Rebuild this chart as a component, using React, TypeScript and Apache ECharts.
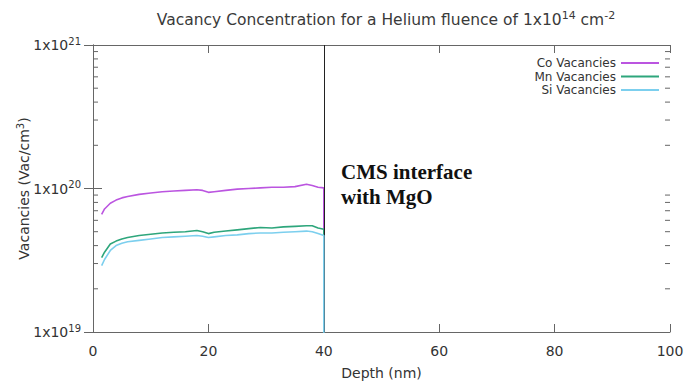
import React, { useEffect, useRef } from "react";
import * as echarts from "echarts";

const depth = [1.5, 2, 3, 4, 5, 6, 8, 10, 12, 14, 16, 18, 19, 20, 21, 23, 25, 27, 29, 31, 33, 35, 37, 38, 39, 40, 40];
const coVac = [6.6e19, 7.2e19, 7.9e19, 8.3e19, 8.6e19, 8.8e19, 9.1e19, 9.3e19, 9.5e19, 9.6e19, 9.7e19, 9.8e19, 9.7e19, 9.4e19, 9.5e19, 9.7e19, 9.9e19, 1.0e20, 1.01e20, 1.02e20, 1.02e20, 1.03e20, 1.07e20, 1.05e20, 1.02e20, 1.01e20, 1e15];
const mnVac = [3.3e19, 3.6e19, 4.1e19, 4.3e19, 4.45e19, 4.55e19, 4.7e19, 4.8e19, 4.9e19, 4.95e19, 5.0e19, 5.1e19, 5.0e19, 4.85e19, 4.95e19, 5.05e19, 5.15e19, 5.25e19, 5.35e19, 5.3e19, 5.4e19, 5.45e19, 5.5e19, 5.5e19, 5.3e19, 5.2e19, 1e15];
const siVac = [2.9e19, 3.2e19, 3.7e19, 4.0e19, 4.15e19, 4.25e19, 4.35e19, 4.45e19, 4.55e19, 4.6e19, 4.65e19, 4.7e19, 4.65e19, 4.55e19, 4.6e19, 4.7e19, 4.75e19, 4.85e19, 4.9e19, 4.9e19, 4.95e19, 5.0e19, 5.05e19, 5.0e19, 4.85e19, 4.7e19, 1e15];
const seriesNames = ["Co Vacancies", "Mn Vacancies", "Si Vacancies"];
const minorTickValues = [2e19, 3e19, 4e19, 5e19, 6e19, 7e19, 8e19, 9e19, 2e20, 3e20, 4e20, 5e20, 6e20, 7e20, 8e20, 9e20];
const xTicks = [0, 20, 40, 60, 80, 100];
const interfaceDepth = 40;

const FONT = "DejaVu Sans";

export default function App() {
  const ref = useRef<HTMLDivElement>(null);
  useEffect(() => {
    if (!ref.current) return;
    const chart = echarts.init(ref.current, null, { renderer: "svg" });
    const pairs = (vals: number[]) => depth.map((d, i) => [d, vals[i]]);
    const supRich = {
      b: { fontSize: 14, fontFamily: FONT, color: "#333" },
      s: { fontSize: 10, fontFamily: FONT, color: "#333", verticalAlign: "bottom", padding: [0, 0, 8, 0] },
    };
    const axisLine = { show: true, lineStyle: { color: "#666", width: 1 } };
    chart.setOption({
      animation: false,
      backgroundColor: "#fff",
      title: {
        text: "Vacancy Concentration for a Helium fluence of 1x10{s|14} cm{s|-2}",
        left: 381,
        textAlign: "center",
        top: 5,
        textStyle: {
          fontSize: 15.5,
          fontWeight: "normal",
          fontFamily: FONT,
          color: "#3a3a3a",
          rich: {
            s: { fontSize: 11, fontFamily: FONT, color: "#3a3a3a", verticalAlign: "bottom", padding: [0, 0, 8, 0] },
          },
        },
      },
      legend: {
        data: seriesNames,
        orient: "vertical",
        align: "right",
        right: 29,
        top: 52,
        itemWidth: 38,
        itemHeight: 2,
        itemGap: 1.5,
        icon: "rect",
        textStyle: { fontSize: 12, fontFamily: FONT, color: "#333" },
      },
      grid: { left: 93, right: 23, top: 45, bottom: 52 },
      xAxis: [
        {
          type: "value",
          min: 0,
          max: 100,
          interval: 20,
          name: "Depth (nm)",
          nameLocation: "middle",
          nameGap: 34,
          nameTextStyle: { fontSize: 14, fontFamily: FONT, color: "#333" },
          axisLine,
          axisTick: { show: true, inside: true, length: 8, lineStyle: { color: "#666" } },
          axisLabel: { fontSize: 14, fontFamily: FONT, color: "#333", margin: 12 },
          splitLine: { show: false },
        },
        {
          type: "value",
          position: "top",
          min: 0,
          max: 100,
          interval: 20,
          axisLine,
          axisTick: { show: true, inside: true, length: 8, lineStyle: { color: "#666" } },
          axisLabel: { show: false },
          splitLine: { show: false },
        },
      ],
      yAxis: [
        {
          type: "log",
          logBase: 10,
          min: 1e19,
          max: 1e21,
          name: "Vacancies (Vac/cm{s|3})",
          nameLocation: "middle",
          nameMoveOverlap: false,
          nameGap: 60,
          nameTextStyle: {
            fontSize: 14,
            fontFamily: FONT,
            color: "#333",
            rich: { s: { fontSize: 10, fontFamily: FONT, color: "#333", verticalAlign: "bottom", padding: [0, 0, 8, 0] } },
          },
          axisLine,
          axisTick: { show: true, inside: true, length: 9, lineStyle: { color: "#666" } },
          axisLabel: {
            margin: 12,
            formatter: (v: number) => `{b|1x10}{s|${Math.round(Math.log10(v))}}`,
            rich: supRich,
          },
          splitLine: { show: false },
        },
        {
          type: "log",
          logBase: 10,
          min: 1e19,
          max: 1e21,
          position: "right",
          axisLine,
          axisTick: { show: true, inside: true, length: 9, lineStyle: { color: "#666" } },
          axisLabel: { show: false },
          splitLine: { show: false },
        },
      ],
      series: [
        {
          type: "line",
          data: [],
          z: 1,
          silent: true,
          markLine: {
            silent: true,
            symbol: "none",
            label: { show: false },
            lineStyle: { color: "#222", width: 1, type: "solid" },
            data: [{ xAxis: interfaceDepth }],
          },
        },
        {
          name: seriesNames[0],
          type: "line",
          data: pairs(coVac),
          z: 3,
          showSymbol: false,
          symbol: "none",
          color: "#bb55e0",
          lineStyle: { width: 1.6, color: "#bb55e0" },
          clip: true,
        },
        {
          name: seriesNames[1],
          type: "line",
          data: pairs(mnVac),
          z: 4,
          showSymbol: false,
          symbol: "none",
          color: "#2ea67c",
          lineStyle: { width: 1.6, color: "#2ea67c" },
          clip: true,
        },
        {
          name: seriesNames[2],
          type: "line",
          data: pairs(siVac),
          z: 5,
          showSymbol: false,
          symbol: "none",
          color: "#7ccfee",
          lineStyle: { width: 1.6, color: "#7ccfee" },
          clip: true,
        },
        {
          type: "custom",
          silent: true,
          clip: false,
          data: minorTickValues.map((v) => [0, v]),
          renderItem: (params: any, api: any) => {
            const v = api.value(1);
            const l = api.coord([xTicks[0], v]);
            const r = api.coord([xTicks[xTicks.length - 1], v]);
            const style = { stroke: "#666", lineWidth: 1 };
            return {
              type: "group",
              children: [
                { type: "line", shape: { x1: l[0], y1: l[1], x2: l[0] + 5, y2: l[1] }, style },
                { type: "line", shape: { x1: r[0], y1: r[1], x2: r[0] - 5, y2: r[1] }, style },
              ],
            };
          },
        },
      ],
      graphic: [
        {
          type: "text",
          left: 341,
          top: 159,
          style: {
            text: "CMS interface\nwith MgO",
            font: "bold 21px 'Liberation Serif'",
            lineHeight: 25,
            fill: "#111",
          },
        },
      ],
    });
    return () => chart.dispose();
  }, []);
  return <div ref={ref} style={{ width: 693, height: 385, position: "absolute", left: 0, top: 0 }} />;
}
